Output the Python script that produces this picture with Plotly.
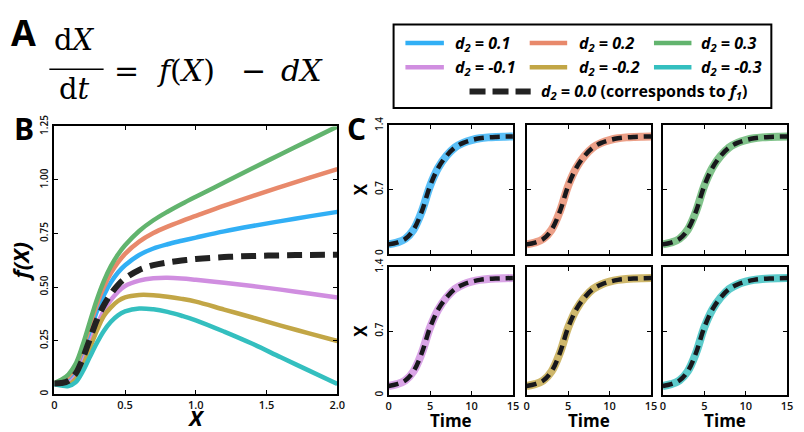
import plotly.graph_objects as go

W, H = 804, 432

# ---------------- data ----------------
x_vals = [0, 0.05, 0.1, 0.15, 0.2, 0.25, 0.3, 0.35, 0.4, 0.45, 0.5, 0.6, 0.7, 0.8, 0.9, 1.0, 1.2, 1.4, 1.6, 1.8, 2.0]

f_d2_00 = [0.050, 0.052, 0.062, 0.095, 0.165, 0.255, 0.345, 0.415, 0.468, 0.510, 0.540, 0.580, 0.602, 0.615, 0.624, 0.631, 0.640, 0.645, 0.648, 0.650, 0.651]
f_d2_p01 = [0.050, 0.057, 0.072, 0.112, 0.190, 0.288, 0.385, 0.462, 0.522, 0.568, 0.602, 0.650, 0.680, 0.700, 0.716, 0.731, 0.760, 0.785, 0.808, 0.830, 0.851]
f_d2_p02 = [0.050, 0.062, 0.082, 0.127, 0.212, 0.315, 0.418, 0.500, 0.565, 0.615, 0.655, 0.712, 0.752, 0.782, 0.808, 0.832, 0.880, 0.925, 0.968, 1.010, 1.051]
f_d2_p03 = [0.052, 0.067, 0.092, 0.140, 0.228, 0.335, 0.440, 0.528, 0.598, 0.652, 0.695, 0.762, 0.812, 0.852, 0.888, 0.922, 0.988, 1.055, 1.120, 1.185, 1.250]
f_d2_m01 = [0.050, 0.048, 0.052, 0.080, 0.145, 0.232, 0.318, 0.390, 0.440, 0.478, 0.505, 0.530, 0.541, 0.543, 0.540, 0.534, 0.520, 0.505, 0.488, 0.470, 0.451]
f_d2_m02 = [0.048, 0.044, 0.045, 0.070, 0.130, 0.212, 0.295, 0.365, 0.405, 0.435, 0.452, 0.463, 0.462, 0.455, 0.445, 0.432, 0.395, 0.358, 0.320, 0.284, 0.248]
f_d2_m03 = [0.046, 0.040, 0.038, 0.055, 0.105, 0.172, 0.238, 0.295, 0.338, 0.368, 0.386, 0.400, 0.396, 0.384, 0.366, 0.345, 0.292, 0.235, 0.172, 0.110, 0.048]

time_vals = [0, 1, 2, 3, 4, 5, 6, 7, 8, 9, 10, 11, 12, 13, 14, 15]
traj_d2 = [0.10, 0.12, 0.16, 0.26, 0.46, 0.74, 0.94, 1.07, 1.16, 1.21, 1.24, 1.26, 1.27, 1.275, 1.278, 1.28]
traj_f1 = [0.10, 0.12, 0.16, 0.26, 0.46, 0.74, 0.94, 1.07, 1.16, 1.21, 1.24, 1.26, 1.27, 1.275, 1.278, 1.28]

labels = ["0.1", "0.2", "0.3", "-0.1", "-0.2", "-0.3"]
colors = ["#31AFF5", "#E8896B", "#62B46E", "#D08EE0", "#C2A646", "#34BFBF"]
series_B = [f_d2_p01, f_d2_p02, f_d2_p03, f_d2_m01, f_d2_m02, f_d2_m03]

b_yticks = [0, 0.25, 0.5, 0.75, 1.0, 1.25]
b_ytext = ["0", "0.25", "0.50", "0.75", "1.00", "1.25"]
b_xticks = [0, 0.5, 1.0, 1.5, 2.0]
b_xtext = ["0", "0.5", "1.0", "1.5", "2.0"]
c_yticks = [0, 0.7, 1.4]
c_ytext = ["0", "0.7", "1.4"]
c_xticks = [0, 5, 10, 15]
c_xtext = ["0", "5", "10", "15"]

# ---------------- helpers ----------------
def px(x):
    return x / W

def py(y):
    return 1 - y / H

FONT = "Open Sans"
tickfont = dict(family=FONT, size=11, color="#111", weight=600)

def axis_common():
    return dict(showgrid=False, zeroline=False, showline=True, linecolor="black", linewidth=2,
                mirror="allticks", ticks="inside", ticklen=4, tickwidth=1.2, tickcolor="black",
                tickfont=tickfont)

fig = go.Figure()

# Panel B
for ys, c in zip(series_B, colors):
    fig.add_trace(go.Scatter(x=x_vals, y=ys, mode="lines", line=dict(color=c, width=4.5, shape="spline"),
                             showlegend=False, xaxis="x", yaxis="y", hoverinfo="skip"))
fig.add_trace(go.Scatter(x=x_vals, y=f_d2_00, mode="lines",
                         line=dict(color="#222222", width=6, dash="15px,8px", shape="spline"),
                         showlegend=False, xaxis="x", yaxis="y", hoverinfo="skip"))

# Panel C
c_xdom = [(391, 517), (531, 657), (669, 795)]
c_ydom = [(117, 249), (263, 395)]
layout_axes = {}
for i, c in enumerate(colors):
    r, col = divmod(i, 3)
    n = i + 2
    xa, ya = f"x{n}", f"y{n}"
    fig.add_trace(go.Scatter(x=time_vals, y=traj_d2, mode="lines",
                             line=dict(color=c, width=8, shape="spline"), opacity=0.8,
                             showlegend=False, xaxis=xa, yaxis=ya, hoverinfo="skip"))
    fig.add_trace(go.Scatter(x=time_vals, y=traj_f1, mode="lines",
                             line=dict(color="#18181c", width=4.5, dash="10px,6px", shape="spline"),
                             showlegend=False, xaxis=xa, yaxis=ya, hoverinfo="skip"))
    xd = c_xdom[col]
    yd = c_ydom[r]
    xax = axis_common()
    xax.update(domain=[px(xd[0]), px(xd[1])], range=[0, 15], anchor=ya,
               tickvals=c_xticks, ticktext=c_xtext, showticklabels=(r == 1))
    if r == 1:
        xax.update(title=dict(text="<b>Time</b>", font=dict(family=FONT, size=17, color="black"), standoff=0))
    yax = axis_common()
    yax.update(domain=[py(yd[1]), py(yd[0])], range=[0, 1.4], anchor=xa,
               tickvals=c_yticks, ticktext=c_ytext, showticklabels=(col == 0), tickangle=-90,
               tickfont=dict(family=FONT, size=10, color="#111", weight=600))
    if col == 0:
        yax.update(title=dict(text="<b>X</b>", font=dict(family=FONT, size=17, color="black"), standoff=0))
    layout_axes[f"xaxis{n}"] = xax
    layout_axes[f"yaxis{n}"] = yax

xaxB = axis_common()
xaxB.update(domain=[px(52), px(339)], range=[0, 2.0], anchor="y", tickvals=b_xticks, ticktext=b_xtext,
            title=dict(text="<b><i>X</i></b>", font=dict(family=FONT, size=22, color="black"), standoff=0))
yaxB = axis_common()
yaxB.update(domain=[py(394), py(118)], range=[0, 1.25], anchor="x", tickvals=b_yticks, ticktext=b_ytext,
            tickangle=-90, tickfont=dict(family=FONT, size=10, color="#111", weight=600),
            title=dict(text="<b><i>f(X)</i></b>", font=dict(family=FONT, size=22, color="black"), standoff=2))

# ---------------- annotations / legend ----------------
ann = []
shapes = []

def text(x, y, s, size, family=FONT, xanchor="center", yanchor="middle", color="black"):
    ann.append(dict(x=px(x), y=py(y), xref="paper", yref="paper", text=s, showarrow=False,
                    xanchor=xanchor, yanchor=yanchor, font=dict(family=family, size=size, color=color)))

text(21, 21, "<b>A</b>", 36)
text(21, 120, "<b>B</b>", 30)
text(358, 120, "<b>C</b>", 30)

SERIF = "DejaVu Serif"
text(72, 29, "d<i>X</i>", 29, family=SERIF)
text(72, 79, "d<i>t</i>", 29, family=SERIF)
shapes.append(dict(type="line", xref="paper", yref="paper", x0=px(47), x1=px(102), y0=py(59), y1=py(59),
                   line=dict(color="black", width=1.6)))
text(125, 60, "=", 30, family=SERIF)
text(186, 60, "<i>f</i>(<i>X</i>)", 30, family=SERIF)
text(254, 60, "−", 30, family=SERIF)
text(303, 60, "<i>dX</i>", 30, family=SERIF)

# legend box
shapes.append(dict(type="rect", xref="paper", yref="paper", x0=px(396), x1=px(779), y0=py(13), y1=py(99),
                   line=dict(color="black", width=2), fillcolor="rgba(0,0,0,0)"))
leg_cols = [(408, 447, 456), (534, 572, 582), (660, 698, 706)]
leg_rows = [32, 57]
for i, (lab, c) in enumerate(zip(labels, colors)):
    r, col = divmod(i, 3)
    x0, x1, tx = leg_cols[col]
    yy = leg_rows[r]
    shapes.append(dict(type="line", xref="paper", yref="paper", x0=px(x0), x1=px(x1), y0=py(yy), y1=py(yy),
                       line=dict(color=c, width=4.5)))
    text(tx, yy, f"<b><i>d<sub>2</sub> = {lab}</i></b>", 16, xanchor="left")
shapes.append(dict(type="line", xref="paper", yref="paper", x0=px(473), x1=px(535), y0=py(82), y1=py(82),
                   line=dict(color="#222222", width=6, dash="16px,7px")))
text(543, 82, "<b><i>d<sub>2</sub> = 0.0</i> (corresponds to <i>f<sub>1</sub></i>)</b>", 16, xanchor="left")

fig.update_layout(width=W, height=H, margin=dict(l=0, r=0, t=0, b=0),
                  paper_bgcolor="white", plot_bgcolor="white",
                  xaxis=xaxB, yaxis=yaxB, annotations=ann, shapes=shapes, **layout_axes)

fig.write_html("out.html")
